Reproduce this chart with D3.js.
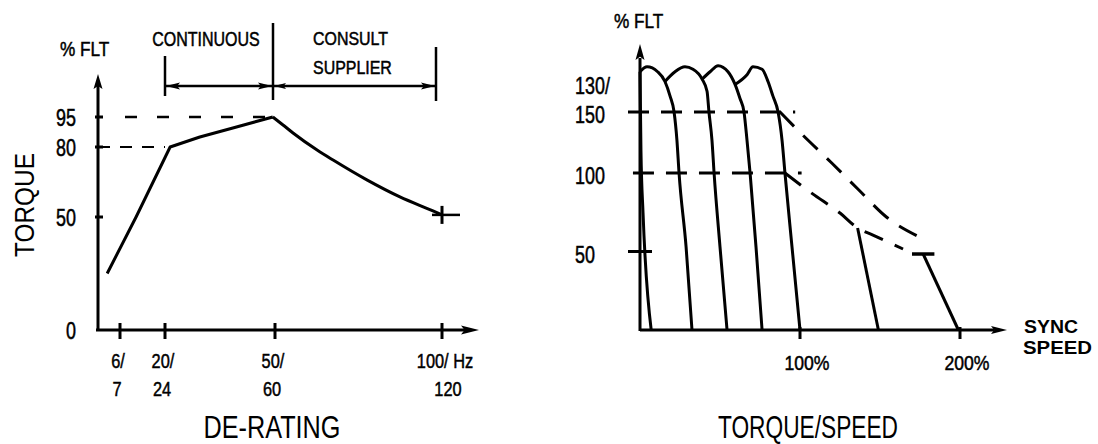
<!DOCTYPE html>
<html>
<head>
<meta charset="utf-8">
<script src="https://cdn.jsdelivr.net/npm/d3@7"></script>
<style>
  body { margin: 0; background: #fff; }
  svg text { font-family: 'Liberation Sans', Arial, sans-serif; fill: #000; }
</style>
</head>
<body>
<svg width="1098" height="444"></svg>
<script>
// ---- de-rating chart data ----
const hzTicks = [6, 20, 50, 100];
const hzTop = ['6/', '20/', '50/', '100/ Hz'];
const hzBottom = ['7', '24', '60', '120'];
const torqueTicksL = [0, 50, 80, 95];
const derating = [[2.5, 25], [11, 50], [21.4, 80], [29.5, 85], [38.5, 89.5], [49.4, 95],
    [52.4, 91], [55.4, 87], [62.6, 78.7], [67.4, 74.4], [77.5, 65.9], [87.4, 58.6], [97.3, 52.6], [100, 50.9]];
const peakIdx = 5;
const zones = [20, 50, 100];

// ---- torque/speed chart data ----
const speedTicks = [100, 200];
const speedLabels = ['100%', '200%'];
const torqueTicksR = [50, 100, 150];
const torqueLabelsR = [['50'], ['100'], ['130/', '150']];
const speedCurves = [
    [[0, 183], [0.6, 118], [1.9, 74.5], [7, 0]],
    [[0, 183], [4.4, 187], [11, 183], [15.6, 175], [18.8, 163], [21.3, 150], [23.1, 126.6], [24.4, 100], [28.8, 53], [32.5, 0]],
    [[15.6, 175], [21.9, 183], [28.1, 187], [33.1, 185], [38.8, 177], [41.9, 167], [43.1, 150], [45, 126.6], [46.3, 100], [50, 53], [54.4, 0]],
    [[38.8, 177], [43.8, 183], [48.8, 188], [55, 183], [59.4, 172.6], [62.5, 161], [65, 150], [66.9, 126.6], [68.8, 100], [72.5, 53], [76.3, 0]],
    [[59.4, 172.6], [66.9, 180.6], [70.6, 187], [76.3, 185], [80, 175], [83.1, 163], [86.3, 150], [88.8, 126.6], [90.6, 100], [95, 53], [100, 0]],
    [[136, 65], [149, 0]],
    [[177, 48.4], [199, 0]]
];
const limit150 = [[87.5, 150], [101, 132], [120, 108], [136, 90], [154, 72], [176, 58.6]];
const limit100 = [[90.6, 100], [107.5, 87], [125, 74.5], [136, 65], [145.6, 60.5], [164.4, 51.6]];
const topBar = [170, 184, 48.4];
const refLines = [[150, -7.5, 97], [100, -4.4, 101], [50, -7.5, 7.5]];

const svg = d3.select('svg');

const arrow = (g, x, y, ang, len, wid) => {
    g.append('path')
        .attr('d', `M0,0 L${-len},${-wid / 2} L${-len * 0.8},0 L${-len},${wid / 2} Z`)
        .attr('transform', `translate(${x},${y}) rotate(${ang})`)
        .attr('fill', '#000');
};

// narrow text: Liberation Sans squeezed sideways, like the condensed face of the scan
const ntext = (g, x, y, str, size, anchor, sx) => g.append('text')
    .attr('transform', `translate(${x},${y}) scale(${sx || 0.78},1)`)
    .attr('text-anchor', anchor || 'start')
    .attr('stroke', '#000').attr('stroke-width', 0.5)
    .style('font-size', size + 'px')
    .text(str);

const seg = (g, x1, y1, x2, y2, w) => g.append('line')
    .attr('x1', x1).attr('y1', y1).attr('x2', x2).attr('y2', y2)
    .attr('stroke', '#000').attr('stroke-width', w || 3);

// ============ left: DE-RATING ============
const xL = d3.scaleLinear().domain([0, 6, 20, 50, 100]).range([98, 120, 165, 275, 442]);
const yL = d3.scaleLinear().domain([0, 50, 80, 95]).range([330, 217, 147, 117]);
const gL = svg.append('g');

seg(gL, xL(0), yL(0) + 1, xL(0), 86);
arrow(gL, xL(0), 74, -90, 15, 9);
seg(gL, xL(0) - 2, yL(0), 466, yL(0));
arrow(gL, 479, yL(0), 0, 18, 9);

hzTicks.forEach(d => seg(gL, xL(d), yL(0) - 7, xL(d), yL(0) + 9));
torqueTicksL.slice(1).forEach(d => seg(gL, xL(0) - 3, yL(d), xL(0) + 5, yL(d)));

torqueTicksL.forEach(d => ntext(gL, 76, yL(d) + 9, d, 23, 'end'));
hzTicks.forEach((d, i) => ntext(gL, xL(d) + (i === 3 ? 3 : -2), 368, hzTop[i], 21, 'middle'));
hzTicks.forEach((d, i) => ntext(gL, xL(d) + (i === 3 ? 6 : -3), 396, hzBottom[i], 21, 'middle'));

// dashed guides
seg(gL, xL(0), yL(80), xL(20), yL(80), 2).attr('stroke-dasharray', '12,10');
seg(gL, 125, yL(95), xL(49), yL(95), 2.5).attr('stroke-dasharray', '12,20');

// curve: straight rise, smooth fall
gL.append('path').datum(derating.slice(0, peakIdx + 1))
    .attr('d', d3.line().x(d => xL(d[0])).y(d => yL(d[1])))
    .attr('fill', 'none').attr('stroke', '#000').attr('stroke-width', 3).attr('stroke-linejoin', 'round');
gL.append('path').datum(derating.slice(peakIdx))
    .attr('d', d3.line().x(d => xL(d[0])).y(d => yL(d[1])).curve(d3.curveMonotoneX))
    .attr('fill', 'none').attr('stroke', '#000').attr('stroke-width', 3);
const endP = derating[derating.length - 1];
seg(gL, xL(endP[0]) - 10, yL(endP[1]), xL(endP[0]) + 18, yL(endP[1]), 2.5);
seg(gL, xL(endP[0]), yL(endP[1]) - 9, xL(endP[0]), yL(endP[1]) + 9);

// zone annotation
const zy = 86;
seg(gL, xL(zones[0]), zy, xL(zones[2]) - 6, zy, 2.5);
seg(gL, xL(zones[0]), 56, xL(zones[0]), 96, 2.5);
seg(gL, xL(zones[1]) - 2, 23, xL(zones[1]) - 2, 100, 2.5);
seg(gL, xL(zones[2]) - 6, 47, xL(zones[2]) - 6, 101, 2.5);
arrow(gL, xL(zones[0]) + 1, zy, 180, 14, 7);
arrow(gL, xL(zones[1]) - 3, zy, 0, 14, 7);
arrow(gL, xL(zones[1]) - 1, zy, 180, 12, 6);
arrow(gL, xL(zones[2]) - 7, zy, 0, 14, 7);

ntext(gL, 206, 46, 'CONTINUOUS', 20, 'middle', 0.8);
ntext(gL, 313, 45, 'CONSULT', 19, 'start', 0.84);
ntext(gL, 313, 74, 'SUPPLIER', 19, 'start', 0.84);
ntext(gL, 60, 56, '% FLT', 20, 'start', 0.86);
gL.append('text').attr('transform', 'translate(34,205) rotate(-90)')
    .attr('text-anchor', 'middle').attr('textLength', 104).attr('lengthAdjust', 'spacingAndGlyphs')
    .style('font-size', '28px').text('TORQUE');
gL.append('text').attr('x', 272).attr('y', 438).attr('text-anchor', 'middle')
    .attr('textLength', 137).attr('lengthAdjust', 'spacingAndGlyphs')
    .style('font-size', '31px').text('DE-RATING');

// ============ right: TORQUE/SPEED ============
const xR = d3.scaleLinear().domain([0, 200]).range([640, 960]);
const yR = d3.scaleLinear().domain([0, 100, 150]).range([330, 173, 112]);
const gR = svg.append('g');
const lineR = d3.line().x(d => xR(d[0])).y(d => yR(d[1]));

seg(gR, xR(0), yR(0) + 1, xR(0), 58);
arrow(gR, xR(0), 44, -90, 16, 9);
seg(gR, xR(0), yR(0), 994, yR(0));
arrow(gR, 1007, yR(0), 0, 16, 8);

speedTicks.forEach(d => seg(gR, xR(d), yR(0) - 3, xR(d), yR(0) + 9));
speedTicks.forEach((d, i) => ntext(gR, xR(d) + 7, 370, speedLabels[i], 21, 'middle', 0.84));

refLines.forEach(([t, s0, s1]) => {
    seg(gR, xR(s0), yR(t), xR(s1), yR(t))
        .attr('stroke-dasharray', t === 50 ? null : '21,12');
});

torqueTicksR.forEach((t, i) => {
    const lab = torqueLabelsR[i];
    lab.forEach((s, j) => ntext(gR, 575, yR(t) + 11 - (lab.length - 1 - j) * 29, s, 23, 'start'));
});

gR.selectAll('.curve').data(speedCurves).enter().append('path')
    .attr('d', d => lineR.curve(d.length > 2 ? d3.curveMonotoneX : d3.curveLinear)(d))
    .attr('fill', 'none').attr('stroke', '#000').attr('stroke-width', 3)
    .attr('stroke-linejoin', 'round');
seg(gR, xR(topBar[0]), yR(topBar[2]), xR(topBar[1]), yR(topBar[2]), 3.5);

[limit150, limit100].forEach(pts => {
    gR.append('path').datum(pts)
        .attr('d', lineR.curve(d3.curveMonotoneX))
        .attr('fill', 'none').attr('stroke', '#000').attr('stroke-width', 3)
        .attr('stroke-dasharray', '20,13');
});

ntext(gR, 614, 28, '% FLT', 20, 'start', 0.86);
gR.append('text').attr('x', 1024).attr('y', 333)
    .attr('textLength', 54).attr('lengthAdjust', 'spacingAndGlyphs')
    .style('font-size', '18px').style('font-weight', 'bold').text('SYNC');
gR.append('text').attr('x', 1023).attr('y', 354)
    .attr('textLength', 69).attr('lengthAdjust', 'spacingAndGlyphs')
    .style('font-size', '18px').style('font-weight', 'bold').text('SPEED');
gR.append('text').attr('x', 808).attr('y', 438).attr('text-anchor', 'middle')
    .attr('textLength', 180).attr('lengthAdjust', 'spacingAndGlyphs')
    .style('font-size', '31px').text('TORQUE/SPEED');
</script>
</body>
</html>
